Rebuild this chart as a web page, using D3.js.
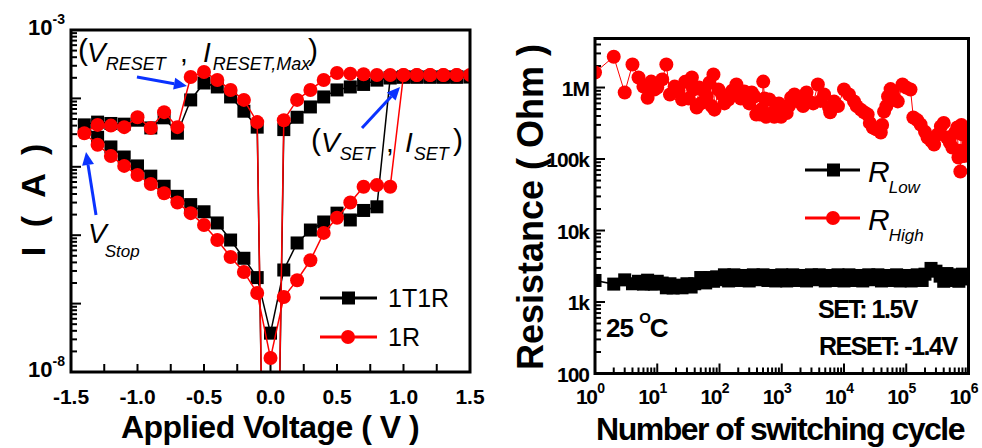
<!DOCTYPE html>
<html>
<head>
<meta charset="utf-8">
<script src="https://cdnjs.cloudflare.com/ajax/libs/d3/7.8.5/d3.min.js"></script>
<style>
  body { margin: 0; background: #fff; }
  svg { display: block; font-family: "Liberation Sans", Arial, sans-serif; }
  .bold { font-weight: bold; }
</style>
</head>
<body>
<svg id="chart" width="982" height="448"></svg>
<script>
// ---------------- left panel : I-V sweep ----------------
// sweep order: 0 -> -1.4 -> 0 -> 1.5 -> 0
var sweepV = [0, -0.1, -0.2, -0.3, -0.4, -0.5, -0.6, -0.7, -0.8, -0.9, -1.0, -1.1, -1.2, -1.3, -1.4,
  -1.3, -1.2, -1.1, -1.0, -0.9, -0.8, -0.7, -0.6, -0.5, -0.4, -0.3, -0.2, -0.1, 0,
  0.1, 0.2, 0.3, 0.4, 0.5, 0.6, 0.7, 0.8, 0.9, 1.0, 1.1, 1.2, 1.3, 1.4, 1.5,
  1.4, 1.3, 1.2, 1.1, 1.0, 0.9, 0.8, 0.7, 0.6, 0.5, 0.4, 0.3, 0.2, 0.1, 0];

var current1T1R = [3e-17, 3.8e-5, 6.5e-5, 1.05e-4, 1.47e-4, 1.68e-4, 9.5e-5, 3.1e-5, 5.2e-5, 3.7e-5, 4.8e-5, 4.2e-5, 4.3e-5, 4.5e-5, 4.1e-5,
  2.7e-5, 1.95e-5, 1.39e-5, 1.03e-5, 7.3e-6, 5.2e-6, 3.7e-6, 2.8e-6, 2.2e-6, 1.51e-6, 8.5e-7, 4.6e-7, 2.4e-7, 3.7e-8,
  3.1e-7, 7.7e-7, 1.19e-6, 1.56e-6, 2.1e-6, 1.67e-6, 2.3e-6, 2.6e-6, 2.0e-4, 2.05e-4, 2.05e-4, 2.05e-4, 2.05e-4, 2.05e-4, 2.05e-4,
  2.05e-4, 2.05e-4, 2.05e-4, 2.05e-4, 2.05e-4, 2.0e-4, 1.85e-4, 1.6e-4, 1.47e-4, 1.33e-4, 1.05e-4, 7.5e-5, 5.3e-5, 3.5e-5, 3e-17];

var current1R = [3e-17, 4.5e-5, 9.5e-5, 1.33e-4, 1.86e-4, 2.43e-4, 2.06e-4, 3.8e-5, 6.3e-5, 3.7e-5, 5.3e-5, 3.8e-5, 4.0e-5, 4.1e-5, 3.1e-5,
  2.1e-5, 1.44e-5, 1.03e-5, 7.6e-6, 5.6e-6, 4.1e-6, 3.0e-6, 2.1e-6, 1.41e-6, 8.5e-7, 4.8e-7, 2.9e-7, 1.43e-7, 1.6e-8,
  1.25e-7, 2.2e-7, 4.3e-7, 1.08e-6, 1.8e-6, 3.0e-6, 5.1e-6, 5.4e-6, 5.1e-6, 2.2e-4, 2.2e-4, 2.2e-4, 2.2e-4, 2.2e-4, 2.2e-4,
  2.2e-4, 2.2e-4, 2.2e-4, 2.2e-4, 2.2e-4, 2.2e-4, 2.2e-4, 2.25e-4, 2.3e-4, 2.35e-4, 1.86e-4, 1.33e-4, 9.5e-5, 4.8e-5, 3e-17];

var voltTicks = [-1.5, -1.0, -0.5, 0.0, 0.5, 1.0, 1.5];
var ivLegend = ["1T1R", "1R"];

// ---------------- right panel : endurance ----------------
var cyclesHigh = [1, 2, 3, 4, 5, 6, 7, 8, 9, 10, 12, 14, 16, 19, 22, 25, 28, 32, 36, 38, 43, 47, 50, 57, 62, 69, 75, 80, 83, 96,
  110, 120, 139, 160, 187, 220, 251, 300, 330, 363, 390, 420, 450, 480, 504, 530, 562, 630, 700, 759, 800, 850, 900, 977,
  1100, 1200, 1300, 1413, 1600, 1820, 2200, 2500, 2754, 3200, 3802, 4200, 4786, 5754, 6000, 6918, 8000,
  1.0e4, 1.2e4, 1.45e4, 1.6e4, 1.86e4, 2.1e4, 2.4e4, 2.6e4, 2.9e4, 3.3e4, 3.9e4, 4.1e4, 4.4e4, 4.8e4, 5.1e4, 5.6e4, 6.1e4, 6.6e4, 7.3e4, 8.7e4,
  1.0e5, 1.17e5, 1.3e5, 1.5e5, 1.7e5, 2.0e5, 2.2e5, 2.5e5, 2.8e5, 3.2e5, 3.6e5, 4.0e5, 4.5e5, 5.0e5, 5.5e5, 6.0e5, 6.6e5, 6.9e5, 7.2e5, 7.4e5, 7.7e5, 8.0e5, 8.5e5, 9.0e5, 1.0e6];
var rHigh = [1.62e6, 2.7e6, 8.5e5, 2.1e6, 1.38e6, 1.03e6, 7.2e5, 1.21e6, 9.4e5, 1.0e6, 1.3e6, 2.1e6, 8.0e5, 1.03e6, 9.0e5, 6.8e5, 1.2e6, 7.0e5, 1.38e6, 9.4e5, 5.25e5, 1.0e6, 6.0e5, 8.8e5, 7.5e5, 1.17e6, 5.5e5, 1.52e6, 4.9e5, 9.4e5,
  8.0e5, 6.0e5, 6.8e5, 9.0e5, 1.1e6, 7.0e5, 8.8e5, 6.0e5, 8.5e5, 7.5e5, 4.2e5, 4.6e5, 4.2e5, 5.0e5, 1.21e6, 7.0e5, 3.9e5, 6.8e5, 4.4e5, 3.9e5, 5.0e5, 4.2e5, 6.0e5, 3.9e5,
  5.0e5, 4.4e5, 5.5e5, 7.2e5, 8.0e5, 6.4e5, 5.5e5, 8.5e5, 6.4e5, 6.0e5, 1.1e6, 6.5e5, 8.0e5, 5.25e5, 4.5e5, 6.4e5, 5.5e5,
  9.4e5, 8.0e5, 6.4e5, 5.5e5, 4.9e5, 4.5e5, 4.2e5, 3.2e5, 2.76e5, 2.6e5, 2.35e5, 3.0e5, 4.6e5, 5.5e5, 7.5e5, 9.5e5, 8.8e5, 7.0e5, 6.4e5, 1.1e6,
  1.0e6, 9.4e5, 3.8e5, 3.5e5, 3.04e5, 2.4e5, 2.0e5, 1.8e5, 1.6e5, 2.2e5, 2.85e5, 3.2e5, 2.0e5, 1.7e5, 1.45e5, 2.3e5, 2.76e5, 1.05e5, 1.3e5, 6.7e4, 3.0e5, 2.2e5, 1.1e5, 2.5e5, 1.6e5];

var cyclesLow = [1, 2, 3, 4, 5, 6, 7, 8, 9, 10, 12, 14, 16, 18, 20, 25, 30, 35, 40, 50, 60, 70, 80, 90, 100, 120, 140, 170, 200, 250, 300, 350, 400, 500, 600, 700, 800,
  1000, 1200, 1500, 1800, 2000, 2500, 3000, 3500, 4000, 5000, 6000, 7000, 8000, 1e4, 1.2e4, 1.5e4, 1.8e4, 2e4, 2.5e4, 3e4, 3.5e4, 4e4, 5e4, 6e4, 7e4, 8e4,
  1e5, 1.2e5, 1.5e5, 1.8e5, 2e5, 2.5e5, 3e5, 3.5e5, 4e5, 4.5e5, 5e5, 6e5, 7e5, 8e5, 9e5, 1e6];
var rLow = [2.0e3, 1.78e3, 2.04e3, 1.8e3, 1.95e3, 1.78e3, 2.02e3, 1.8e3, 1.78e3, 1.95e3,
  1.84e3, 1.58e3, 1.8e3, 1.57e3, 1.72e3, 1.58e3, 1.8e3, 1.62e3,
  1.8e3, 2.2e3, 1.85e3, 2.2e3, 1.95e3, 2.25e3, 2.05e3,
  2.4e3, 1.97e3, 2.4e3, 2.0e3, 2.35e3, 1.97e3, 2.4e3, 2.05e3, 2.4e3, 2.0e3, 2.35e3, 1.97e3,
  2.4e3, 1.97e3, 2.4e3, 2.0e3, 2.35e3, 1.97e3, 2.4e3, 2.05e3, 2.4e3, 1.97e3, 2.35e3, 2.0e3, 2.4e3,
  1.97e3, 2.4e3, 2.0e3, 2.35e3, 1.97e3, 2.4e3, 2.05e3, 2.4e3, 1.97e3, 2.35e3, 2.0e3, 2.4e3, 1.97e3,
  2.35e3, 1.97e3, 2.4e3, 2.0e3, 2.45e3, 2.95e3, 2.7e3, 2.3e3, 1.95e3, 2.5e3, 2.0e3, 2.4e3, 1.95e3, 2.45e3, 2.1e3, 2.3e3];

var resTicks = [100, 1e3, 1e4, 1e5, 1e6];
var resTickLabels = ["100", "1k", "10k", "100k", "1M"];
var cycleTicks = [1, 10, 100, 1e3, 1e4, 1e5, 1e6];
var resLegend = ["Low", "High"];

var svg = d3.select("#chart");
var blue = "#0a32ff";

// helper: main text + subscript
function subText(g, x, y, main, sub, size, subSize, opts) {
  opts = opts || {};
  var t = g.append("text").attr("x", x).attr("y", y)
    .style("font-style", "italic").style("font-size", size + "px")
    .style("font-weight", opts.weight || "normal");
  t.append("tspan").text(main);
  t.append("tspan").attr("dy", opts.dy || subSize * 0.5).attr("dx", opts.dx || 0)
    .style("font-size", subSize + "px").text(sub);
  return t;
}

function arrow(g, x1, y1, x2, y2) {
  var ang = Math.atan2(y2 - y1, x2 - x1), L = 13, W = 6;
  var bx = x2 - L * Math.cos(ang), by = y2 - L * Math.sin(ang);
  g.append("line").attr("x1", x1).attr("y1", y1).attr("x2", bx).attr("y2", by)
    .attr("stroke", blue).attr("stroke-width", 3);
  g.append("path")
    .attr("d", "M" + x2 + "," + y2 + "L" + (bx + W * Math.sin(ang)) + "," + (by - W * Math.cos(ang)) +
      "L" + (bx - W * Math.sin(ang)) + "," + (by + W * Math.cos(ang)) + "Z")
    .attr("fill", blue);
}

//----------------------------------------
// Left panel
var L = {x0: 71, x1: 470, y0: 30, y1: 372};
var xV = d3.scaleLinear().domain([-1.5, 1.5]).range([L.x0, L.x1]);
var yI = d3.scaleLog().domain([1e-8, 1e-3]).range([L.y1, L.y0]);

svg.append("clipPath").attr("id", "clipL").append("rect")
  .attr("x", L.x0).attr("y", L.y0).attr("width", L.x1 - L.x0).attr("height", L.y1 - L.y0);

var gL = svg.append("g");

// ticks
var yMinor = [];
for (var e = -8; e < -3; e++) for (var m = 1; m < 10; m++) yMinor.push(m * Math.pow(10, e));
gL.selectAll(".ytk").data(yMinor).enter().append("line")
  .attr("x1", L.x0).attr("x2", function(d) { return L.x0 + (Math.abs(Math.log10(d) % 1) < 1e-6 ? 10 : 6); })
  .attr("y1", function(d) { return yI(d); }).attr("y2", function(d) { return yI(d); })
  .attr("stroke", "#000").attr("stroke-width", 2);
gL.selectAll(".xtk").data(d3.range(-1.25, 1.5, 0.25)).enter().append("line")
  .attr("x1", function(d) { return xV(d); }).attr("x2", function(d) { return xV(d); })
  .attr("y1", L.y1).attr("y2", L.y1 - 8)
  .attr("stroke", "#000").attr("stroke-width", 2);

// series
var lineIV = d3.line().x(function(d) { return xV(d[0]); }).y(function(d) { return yI(d[1]); });
var dataT1R = sweepV.map(function(v, i) { return [v, current1T1R[i]]; });
var data1R = sweepV.map(function(v, i) { return [v, current1R[i]]; });

var plotL = gL.append("g").attr("clip-path", "url(#clipL)");
plotL.append("path").datum(dataT1R).attr("d", lineIV).attr("fill", "none").attr("stroke", "#000").attr("stroke-width", 1.5);
plotL.selectAll(".sq").data(dataT1R).enter().append("rect")
  .attr("x", function(d) { return xV(d[0]) - 6.5; }).attr("y", function(d) { return yI(d[1]) - 6.5; })
  .attr("width", 13).attr("height", 13).attr("fill", "#000");
plotL.append("path").datum(data1R).attr("d", lineIV).attr("fill", "none").attr("stroke", "#ff0000").attr("stroke-width", 1.5);
plotL.selectAll(".ci").data(data1R).enter().append("circle")
  .attr("cx", function(d) { return xV(d[0]); }).attr("cy", function(d) { return yI(d[1]); })
  .attr("r", 7).attr("fill", "#ff0000");

// frame
gL.append("rect").attr("x", L.x0).attr("y", L.y0).attr("width", L.x1 - L.x0).attr("height", L.y1 - L.y0)
  .attr("fill", "none").attr("stroke", "#000").attr("stroke-width", 3);

// tick labels
gL.selectAll(".xl").data(voltTicks).enter().append("text").attr("class", "bold")
  .attr("x", function(d) { return xV(d); }).attr("y", 404)
  .attr("text-anchor", "middle").style("font-size", "21px")
  .text(function(d) { return d.toFixed(1); });
[[1e-3, "-3"], [1e-8, "-8"]].forEach(function(p) {
  var t = gL.append("text").attr("class", "bold").attr("x", 28).attr("y", yI(p[0]) + 5).style("font-size", "22px");
  t.append("tspan").text("10");
  t.append("tspan").attr("dy", -11).style("font-size", "14px").text(p[1]);
});

// axis titles
gL.append("text").attr("class", "bold").attr("x", 270).attr("y", 438).attr("text-anchor", "middle")
  .style("font-size", "32px").style("letter-spacing", "-0.5px").text("Applied Voltage ( V )");
gL.append("text").attr("class", "bold").attr("transform", "translate(45,200) rotate(-90)").attr("text-anchor", "middle")
  .style("font-size", "34px").style("word-spacing", "10px").text("I ( A )");

// legend
ivLegend.forEach(function(name, i) {
  var y = 298 + i * 39;
  var col = i === 0 ? "#000" : "#ff0000";
  gL.append("line").attr("x1", 320).attr("x2", 377).attr("y1", y).attr("y2", y).attr("stroke", col).attr("stroke-width", 3);
  if (i === 0) gL.append("rect").attr("x", 342).attr("y", y - 6.5).attr("width", 13).attr("height", 13).attr("fill", col);
  else gL.append("circle").attr("cx", 348).attr("cy", y).attr("r", 7).attr("fill", col);
  gL.append("text").attr("x", 388).attr("y", y + 9).style("font-size", "25px").text(name);
});

// annotations
gL.append("text").attr("x", 78).attr("y", 60).style("font-size", "30px").text("(");
subText(gL, 87, 62, "V", "RESET", 28, 18, {dy: 8});
gL.append("text").attr("x", 180).attr("y", 62).style("font-size", "28px").text(",");
subText(gL, 203, 62, "I", "RESET,Max", 28, 18, {dy: 8, dx: 2});
gL.append("text").attr("x", 308).attr("y", 60).style("font-size", "30px").text(")");

gL.append("text").attr("x", 311).attr("y", 150).style("font-size", "30px").text("(");
subText(gL, 321, 152, "V", "SET", 28, 18, {dy: 8});
gL.append("text").attr("x", 386).attr("y", 152).style("font-size", "28px").text(",");
subText(gL, 405, 152, "I", "SET", 28, 18, {dy: 8, dx: 1});
gL.append("text").attr("x", 453).attr("y", 150).style("font-size", "30px").text(")");

subText(gL, 88, 243, "V", "Stop", 28, 17, {dy: 14, dx: -2});

arrow(gL, xV(-1.004), yI(Math.pow(10, -3.687)), xV(-0.628), yI(Math.pow(10, -3.819)));
arrow(gL, xV(-1.312), yI(Math.pow(10, -5.705)), xV(-1.387), yI(Math.pow(10, -4.784)));
arrow(gL, xV(0.688), yI(Math.pow(10, -4.433)), xV(0.974), yI(Math.pow(10, -3.833)));

//----------------------------------------
// Right panel
var R = {x0: 595, x1: 968.5, y0: 38.5, y1: 373.5};
var xN = d3.scaleLog().domain([1, 1e6]).range([R.x0, R.x1]);
var yR = d3.scaleLog().domain([100, 4.85e6]).range([R.y1, R.y0]);

svg.append("clipPath").attr("id", "clipR").append("rect")
  .attr("x", R.x0).attr("y", R.y0).attr("width", R.x1 - R.x0).attr("height", R.y1 - R.y0);

var gR = svg.append("g");

var rMinor = [];
for (var e2 = 2; e2 < 7; e2++) for (var m2 = 1; m2 < 10; m2++) {
  var v2 = m2 * Math.pow(10, e2);
  if (v2 <= 4.85e6) rMinor.push(v2);
}
gR.selectAll(".ytk").data(rMinor).enter().append("line")
  .attr("x1", R.x0).attr("x2", function(d) { return R.x0 + (Math.abs(Math.log10(d) % 1) < 1e-6 ? 10 : 6); })
  .attr("y1", function(d) { return yR(d); }).attr("y2", function(d) { return yR(d); })
  .attr("stroke", "#000").attr("stroke-width", 2);
var nMinor = [];
for (var e3 = 0; e3 < 6; e3++) for (var m3 = 1; m3 < 10; m3++) nMinor.push(m3 * Math.pow(10, e3));
gR.selectAll(".xtk").data(nMinor).enter().append("line")
  .attr("x1", function(d) { return xN(d); }).attr("x2", function(d) { return xN(d); })
  .attr("y1", R.y1).attr("y2", function(d) { return R.y1 - (Math.abs(Math.log10(d) % 1) < 1e-6 ? 10 : 6); })
  .attr("stroke", "#000").attr("stroke-width", 2);

var plotR = gR.append("g").attr("clip-path", "url(#clipR)");
var lineR = d3.line().x(function(d) { return xN(d[0]); }).y(function(d) { return yR(d[1]); });
var dataLow = cyclesLow.map(function(n, i) { return [n, rLow[i]]; });
var dataHigh = cyclesHigh.map(function(n, i) { return [n, rHigh[i]]; });

plotR.append("path").datum(dataLow).attr("d", lineR).attr("fill", "none").attr("stroke", "#000").attr("stroke-width", 1.5);
plotR.selectAll(".sq").data(dataLow).enter().append("rect")
  .attr("x", function(d) { return xN(d[0]) - 6.5; }).attr("y", function(d) { return yR(d[1]) - 6.5; })
  .attr("width", 13).attr("height", 13).attr("fill", "#000");
plotR.append("path").datum(dataHigh).attr("d", lineR).attr("fill", "none").attr("stroke", "#ff0000").attr("stroke-width", 1);
plotR.selectAll(".ci").data(dataHigh).enter().append("circle")
  .attr("cx", function(d) { return xN(d[0]); }).attr("cy", function(d) { return yR(d[1]); })
  .attr("r", 7).attr("fill", "#ff0000");

gR.append("rect").attr("x", R.x0).attr("y", R.y0).attr("width", R.x1 - R.x0).attr("height", R.y1 - R.y0)
  .attr("fill", "none").attr("stroke", "#000").attr("stroke-width", 3);

// tick labels
gR.selectAll(".yl").data(resTicks).enter().append("text").attr("class", "bold")
  .attr("x", 589).attr("y", function(d) { return yR(d) + 8; })
  .attr("text-anchor", "end").style("font-size", "21px").style("letter-spacing", "-1px")
  .text(function(d, i) { return resTickLabels[i]; });
cycleTicks.forEach(function(d) {
  var t = gR.append("text").attr("class", "bold").attr("x", xN(d) - 19).attr("y", 404)
    .style("font-size", "21px").style("letter-spacing", "-1.5px");
  t.append("tspan").text("10");
  t.append("tspan").attr("dy", -11).attr("dx", 1).style("font-size", "14px").text(Math.round(Math.log10(d)));
});

// axis titles
gR.append("text").attr("class", "bold").attr("x", 780).attr("y", 440).attr("text-anchor", "middle")
  .style("font-size", "32px").style("letter-spacing", "-1.5px").text("Number of switching cycle");
gR.append("text").attr("class", "bold").attr("transform", "translate(543,207) rotate(-90)").attr("text-anchor", "middle")
  .style("font-size", "36px").text("Resistance ( Ohm )");

// legend
resLegend.forEach(function(name, i) {
  var y = 170 + i * 48;
  var col = i === 0 ? "#000" : "#ff0000";
  gR.append("line").attr("x1", 805).attr("x2", 860).attr("y1", y).attr("y2", y).attr("stroke", col).attr("stroke-width", 3);
  if (i === 0) gR.append("rect").attr("x", 827).attr("y", y - 6.5).attr("width", 13).attr("height", 13).attr("fill", col);
  else gR.append("circle").attr("cx", 833).attr("cy", y).attr("r", 7).attr("fill", col);
  subText(gR, 868, y + 12, "R", name, 30, 17, {dy: 11, dx: -1});
});

// condition labels
var tC = gR.append("text").attr("class", "bold").attr("x", 606).attr("y", 337).style("font-size", "26px").style("letter-spacing", "-1px");
tC.append("tspan").text("25 ");
tC.append("tspan").attr("dy", -14).style("font-size", "15px").text("O");
tC.append("tspan").attr("dy", 14).text("C");
gR.append("text").attr("class", "bold").attr("x", 818).attr("y", 318).style("font-size", "25px").style("letter-spacing", "-1.5px").text("SET: 1.5V");
gR.append("text").attr("class", "bold").attr("x", 819).attr("y", 355).style("font-size", "25px").style("letter-spacing", "-1.5px").text("RESET: -1.4V");
</script>
</body>
</html>
